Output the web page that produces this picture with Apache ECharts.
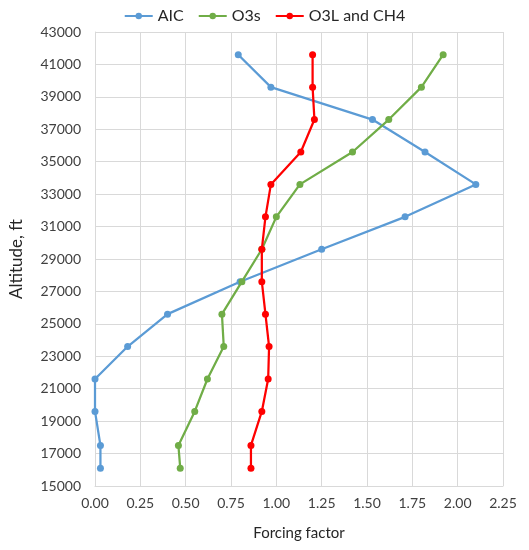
<!DOCTYPE html>
<html>
<head>
<meta charset="utf-8">
<script src="https://cdn.jsdelivr.net/npm/echarts@6/dist/echarts.min.js"></script>
<style>html,body{margin:0;padding:0;background:#fff}#c{width:529px;height:550px}</style>
</head>
<body>
<div id="c"></div>
<script>
var altitudes = [16100, 17500, 19600, 21600, 23600, 25600, 27600, 29600, 31600, 33600, 35600, 37600, 39600, 41600];
var aic = [0.03, 0.03, 0.00, 0.00, 0.18, 0.40, 0.80, 1.25, 1.71, 2.10, 1.82, 1.53, 0.97, 0.79];
var o3s = [0.47, 0.46, 0.55, 0.62, 0.71, 0.70, 0.81, 0.92, 1.00, 1.13, 1.42, 1.62, 1.80, 1.92];
var o3lch4 = [0.86, 0.86, 0.92, 0.955, 0.96, 0.94, 0.92, 0.92, 0.94, 0.97, 1.135, 1.21, 1.20, 1.20];
var seriesNames = ['AIC', 'O3s', 'O3L and CH4'];
var colors = ['#5B9BD5', '#70AD47', '#FF0000'];

function pairs(xs) { return xs.map(function (v, i) { return [v, altitudes[i]]; }); }

var font = 'Lato, "Open Sans", sans-serif';
var chart = echarts.init(document.getElementById('c'));
var lists = [aic, o3s, o3lch4];
chart.setOption({
  animation: false,
  textStyle: { fontFamily: font },
  legend: {
    top: 3, left: 'center', itemWidth: 28, itemHeight: 8, itemGap: 14,
    textStyle: { fontSize: 16, color: '#262626', fontFamily: font }
  },
  grid: { left: 92, right: 26, top: 32, bottom: 64, containLabel: false },
  xAxis: {
    type: 'value', min: 0, max: 2.25, interval: 0.25,
    name: 'Forcing factor', nameLocation: 'middle', nameGap: 40,
    nameTextStyle: { fontSize: 15, color: '#262626' },
    axisLabel: { fontSize: 14, color: '#404040', formatter: function (v) { return v.toFixed(2); }, margin: 10 },
    axisLine: { show: true, lineStyle: { color: '#D9D9D9' } },
    axisTick: { show: false },
    splitLine: { show: true, lineStyle: { color: '#D9D9D9', width: 1 } }
  },
  yAxis: {
    type: 'value', min: 15000, max: 43000, interval: 2000,
    name: 'Altitude, ft', nameLocation: 'middle', nameGap: 70, nameRotate: 90,
    nameTextStyle: { fontSize: 17, color: '#262626' },
    axisLabel: { fontSize: 14, color: '#404040', margin: 14, formatter: function (v) { return String(v); } },
    axisLine: { show: true, lineStyle: { color: '#D9D9D9' } },
    axisTick: { show: false },
    splitLine: { show: true, lineStyle: { color: '#D9D9D9', width: 1 } }
  },
  series: lists.map(function (l, i) {
    return {
      name: seriesNames[i], type: 'line', data: pairs(l),
      symbol: 'circle', symbolSize: 7,
      lineStyle: { color: colors[i], width: 2.25 },
      itemStyle: { color: colors[i] },
      z: 2 + i
    };
  })
});
</script>
</body>
</html>
